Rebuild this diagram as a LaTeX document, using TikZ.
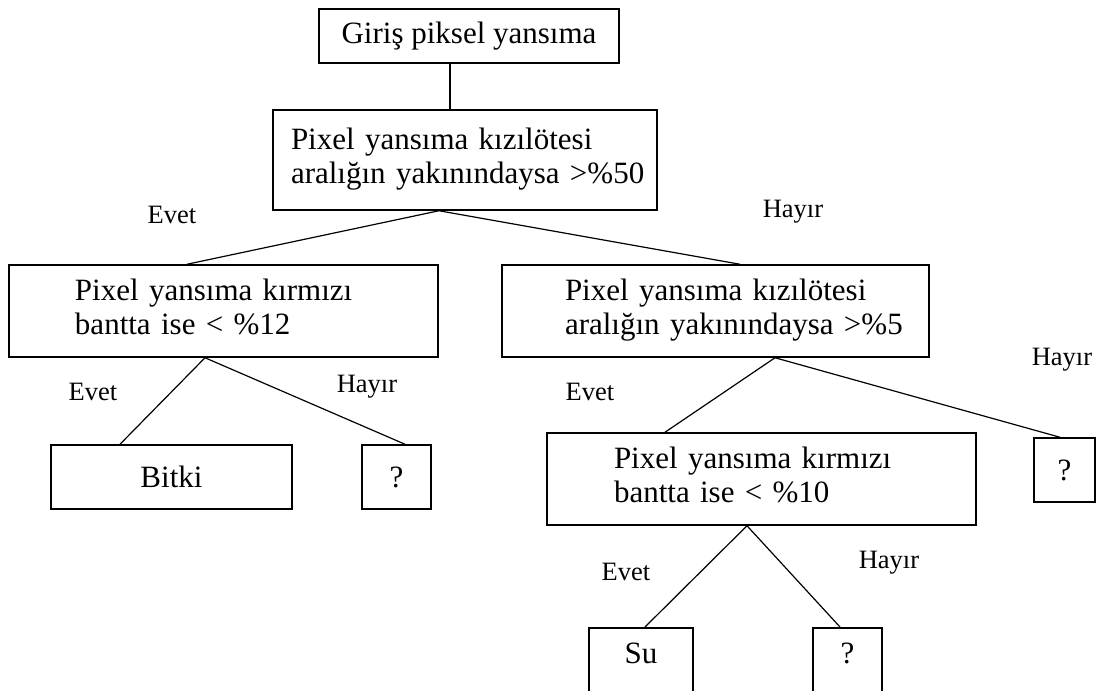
\documentclass[tikz,border=0pt]{standalone}
\usepackage{fontspec}
\setmainfont{Liberation Serif}
\usetikzlibrary{calc}

\begin{document}
\begin{tikzpicture}[x=1pt, y=-1pt,
  kutu/.style={draw, line width=1.5pt, inner sep=0pt, font=\fontsize{31}{34}\selectfont},
  kosul/.style={kutu, align=left, minimum height=92pt},
  cevap/.style={kutu, anchor=north, text height=36pt, text depth=45pt},
  etiket/.style={inner sep=0pt, font=\fontsize{26.5}{30}\selectfont},
  dal/.style={line width=1.2pt}]

\useasboundingbox (0,0) rectangle (1099,690);
\clip (0,0) rectangle (1099,690);

% kutular
\node[kutu, minimum width=300pt, minimum height=54pt] (giris) at (469,36) {Giriş piksel yansıma};
\node[kosul, text width=384pt, minimum height=100pt] (kizil1) at (465,160) {\hspace*{18pt}\begin{tabular}{@{}l@{}}Pixel yansıma kızılötesi\\aralığın yakınındaysa >\%50\end{tabular}};
\node[kosul, text width=429pt] (kirmizi1) at (223.5,311) {\hspace*{66pt}\begin{tabular}{@{}l@{}}Pixel yansıma kırmızı\\bantta ise < \%12\end{tabular}};
\node[kosul, text width=427pt] (kizil2) at (715.5,311) {\hspace*{63pt}\begin{tabular}{@{}l@{}}Pixel yansıma kızılötesi\\aralığın yakınındaysa >\%5\end{tabular}};
\node[kosul, text width=429pt] (kirmizi2) at (761.5,479) {\hspace*{67pt}\begin{tabular}{@{}l@{}}Pixel yansıma kırmızı\\bantta ise < \%10\end{tabular}};
\node[kutu, minimum width=241pt, minimum height=64pt] (bitki) at (171.5,477) {Bitki};
\node[kutu, minimum width=69pt, minimum height=64pt] (bilinmez1) at (396.5,477) {?};
\node[kutu, minimum width=61pt, minimum height=64pt] (bilinmez2) at (1064.5,470) {?};
\node[cevap, minimum width=104pt] (su) at (641,627) {Su};
\node[cevap, minimum width=69pt] (bilinmez3) at (847.5,627) {?};

% etiketler
\node[etiket] (evet1) at (172,215) {Evet};
\node[etiket] (hayir1) at (793,212) {Hayır};
\node[etiket] (evet2) at (93,392) {Evet};
\node[etiket] (hayir2) at (367,387) {Hayır};
\node[etiket] (evet3) at (590,392) {Evet};
\node[etiket] (hayir3) at (1062,360) {Hayır};
\node[etiket] (evet4) at (626,572) {Evet};
\node[etiket] (hayir4) at (889,563) {Hayır};

% dallar
\draw[dal] ($(giris.south)+(-19,0)$) -- ($(kizil1.north)+(-15,0)$);
\draw[dal] ($(kizil1.south)+(-26,0)$) -- ($(kirmizi1.north)+(-36.5,0)$);
\draw[dal] ($(kizil1.south)+(-26,0)$) -- ($(kizil2.north)+(24.5,0)$);
\draw[dal] ($(kirmizi1.south)+(-18.5,0)$) -- ($(bitki.north)+(-51.5,0)$);
\draw[dal] ($(kirmizi1.south)+(-18.5,0)$) -- ($(bilinmez1.north)+(8.5,0)$);
\draw[dal] ($(kizil2.south)+(59.5,0)$) -- ($(kirmizi2.north)+(-96.5,0)$);
\draw[dal] ($(kizil2.south)+(59.5,0)$) -- ($(bilinmez2.north)+(-4.5,0)$);
\draw[dal] ($(kirmizi2.south)+(-14.5,0)$) -- ($(su.north)+(4,0)$);
\draw[dal] ($(kirmizi2.south)+(-14.5,0)$) -- ($(bilinmez3.north)+(-7.5,0)$);
\end{tikzpicture}
\end{document}
